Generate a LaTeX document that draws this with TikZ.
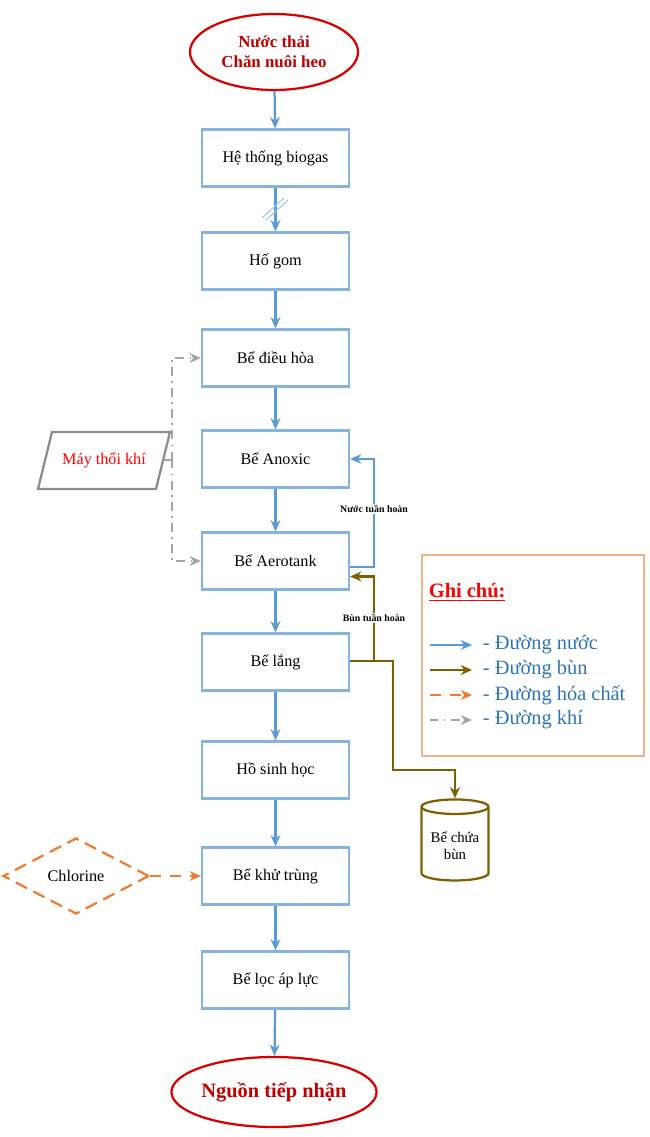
\documentclass[tikz,border=0pt]{standalone}
\usepackage{fontspec}
\setmainfont{Liberation Serif}
\usetikzlibrary{shapes.geometric,arrows.meta}
\definecolor{boxblue}{RGB}{91,155,213}
\definecolor{mudbrown}{RGB}{127,96,0}
\definecolor{chemorange}{RGB}{237,125,49}
\definecolor{airgray}{RGB}{165,165,165}
\definecolor{darkred}{RGB}{192,0,0}
\definecolor{legtext}{RGB}{46,117,182}
\tikzset{
  box/.style={draw=boxblue!75,line width=1.6pt,minimum width=147*0.025cm,minimum height=57*0.025cm,font=\fontsize{11.5}{13}\selectfont},
  term/.style={ellipse,draw=red!85!black,line width=1.6pt,text=darkred,font=\bfseries\fontsize{12}{14}\selectfont,align=center,inner sep=0pt},
  water/.style={draw=boxblue,line width=1.6pt,-{Stealth[length=8pt,width=7pt]}},
  mud/.style={draw=mudbrown,line width=1.6pt,-{Stealth[length=8pt,width=7pt]}},
  chem/.style={draw=chemorange,line width=1.6pt,dash pattern=on 8pt off 6pt,-{Stealth[length=8pt,width=7pt]}},
  air/.style={draw=airgray,line width=1.3pt,dash pattern=on 6pt off 4pt on 1pt off 4pt,-{Stealth[length=8pt,width=7pt]}},
  lbl/.style={font=\bfseries\fontsize{7}{8}\selectfont,fill=white,inner sep=1pt},
  legitem/.style={text=legtext,font=\fontsize{14.5}{16}\selectfont,anchor=west}
}
\begin{document}
\begin{tikzpicture}[x=0.025cm,y=-0.025cm]
  \useasboundingbox (0,0) rectangle (650,1137);
  % main line
  \node[term,minimum width=168*0.025cm,minimum height=76*0.025cm] (src) at (274,52) {Nước thải\\Chăn nuôi heo};
  \node[box] (biogas) at (275.5,158) {Hệ thống biogas};
  \node[box] (gom) at (275.5,261) {Hố gom};
  \node[box] (dieuhoa) at (275.5,358) {Bể điều hòa};
  \node[box] (anoxic) at (275.5,459) {Bể Anoxic};
  \node[box] (aero) at (275.5,561) {Bể Aerotank};
  \node[box] (lang) at (275.5,662) {Bể lắng};
  \node[box] (sinhhoc) at (275.5,770) {Hồ sinh học};
  \node[box] (khutrung) at (275.5,876) {Bể khử trùng};
  \node[box] (loc) at (275.5,980) {Bể lọc áp lực};
  \node[term,minimum width=170*0.025cm,minimum height=70*0.025cm,font=\bfseries\fontsize{14.5}{16}\selectfont] (dst) at (274,1092) {Nguồn tiếp nhận};
  \foreach \a/\b in {src/biogas,biogas/gom,gom/dieuhoa,dieuhoa/anoxic,anoxic/aero,aero/lang,lang/sinhhoc,sinhhoc/khutrung,khutrung/loc,loc/dst}
    \draw[water] (\a) -- (\b);
  \draw[boxblue!60,line width=0.7pt] (262,218) -- (284,198) (266,220) -- (288,200);
  % side units
  \node[text=red,font=\fontsize{11.5}{13}\selectfont,minimum width=100*0.025cm,minimum height=57*0.025cm] (blower) at (104,460) {Máy thổi khí};
  \draw[airgray!85!black,line width=1.6pt] (38,489) -- (52,432) -- (170,432) -- (156,489) -- cycle;
  \node[diamond,draw=chemorange,line width=1.6pt,dash pattern=on 9pt off 5pt,aspect=1.9,
        minimum width=146*0.025cm,minimum height=76*0.025cm,inner sep=0pt,font=\fontsize{11.5}{13}\selectfont] (chlor) at (76,876) {Chlorine};
  \node[cylinder,shape border rotate=90,draw=mudbrown,line width=1.6pt,aspect=0.25,
        minimum width=67*0.025cm,minimum height=81*0.025cm,align=center,font=\fontsize{10.5}{12}\selectfont] (bun) at (455,846) {Bể chứa\\bùn};
  \coordinate (airbus) at (172,460);
  \draw[airgray,line width=1.3pt] (163,460) -- (airbus);
  \draw[air] (airbus) |- (dieuhoa.west);
  \draw[air] (airbus) |- (aero.west);
  \draw[chem] (chlor) -- (khutrung);
  % recirculation
  \draw[water] ([yshift=-4pt]aero.east) -| (374,459) -- (anoxic.east);
  \node[lbl] at (374,509) {Nước tuần hoàn};
  \coordinate (split) at (374,661);
  \draw[mud] (lang.east |- split) -- (split) |- ([yshift=-11pt]aero.east);
  \node[lbl] at (374,618) {Bùn tuần hoàn};
  \draw[mud] (split) -- (393,661) |- (455,770) -- (bun.top);
  % legend
  \node[draw=chemorange!60,line width=0.8pt,minimum width=222*0.025cm,minimum height=201*0.025cm] (legend) at (533,655.5) {};
  \node[text=red,font=\bfseries\fontsize{14.5}{16}\selectfont,anchor=west] (note) at (424,592) {\underline{Ghi chú:}};
  \foreach \y/\st/\t in {645/water/nước,670/mud/bùn,695/chem/hóa chất,720/air/khí}{
    \coordinate (l\y) at (430,\y);
    \node[legitem] (t\y) at (478,\y) {- Đường \t};
    \draw[\st] (l\y) -- (472,\y);
  }
\end{tikzpicture}
\end{document}
